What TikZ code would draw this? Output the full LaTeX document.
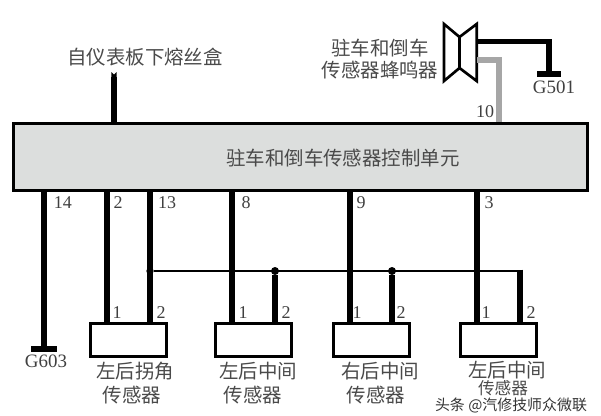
\documentclass[tikz,border=0pt]{standalone}
\usepackage{fontspec}
\setmainfont{Liberation Serif}
\newfontfamily\cjk{Noto Sans CJK SC}
\usetikzlibrary{arrows.meta}
\definecolor{unitgray}{HTML}{DCDEDD}
\definecolor{labelgray}{HTML}{4A4A4A}
\tikzset{
    wire/.style={line width=4.4pt},
    thinwire/.style={line width=2.2pt},
    sensorbox/.style={draw,line width=2.25pt,fill=white,rectangle,inner sep=0pt,minimum width=57pt,minimum height=24.75pt},
    cn/.style={font=\cjk\fontsize{14.6}{16}\selectfont,text=labelgray,inner sep=0pt},
    num/.style={font=\fontsize{13.5}{15}\selectfont,text=black!75,inner sep=0pt},
    dot/.style={circle,fill=black,inner sep=0pt,minimum size=6pt},
}
\begin{document}
\begin{tikzpicture}[x=0.75pt,y=-0.75pt]
    \useasboundingbox (0,0) rectangle (601,415);
    % control unit
    \node[draw,line width=2.25pt,fill=unitgray,rectangle,inner sep=0pt,minimum width=430.5pt,minimum height=50pt] (unit) at (300.5,157) {};
    \node[cn] (unittext) at (343,158) {驻车和倒车传感器控制单元};
    % fuse box feed
    \node[cn] (fuse) at (145,57) {自仪表板下熔丝盒};
    \coordinate (feed) at (114,72);
    \draw[line width=3.8pt,-{Triangle Cap[reversed,length=2pt]}] (unit.north -| feed) -- (feed);
    % buzzer
    \node[cn,align=center] (buzzertext) at (380,59) {驻车和倒车\\[1pt]传感器蜂鸣器};
    \coordinate (bz) at (477,41.5);
    \coordinate (bzb) at (477,60);
    \draw[line width=2pt,line join=miter] (444,24) -- (459.5,37) -- (476.7,24) -- (476.7,81) -- (459.5,68) -- (444,81) -- cycle;
    \draw[line width=2pt] (459.5,37) -- (459.5,68);
    \node[inner sep=0pt,minimum width=18pt,minimum height=4.4pt,fill=black] (g501bar) at (549,74) {};
    \node[num,font=\fontsize{14.2}{16}\selectfont] (g501) at (554,87) {G501};
    \draw[wire] (bz) -| (g501bar.north);
    \coordinate (w10) at (499,122);
    \draw[wire,color=black!35] (bzb) -| (w10);
    \node[num] (n10) at (485,112) {10};
    % ground of pin 14
    \node[inner sep=0pt,minimum width=19.5pt,minimum height=4.4pt,fill=black] (g603bar) at (44,349) {};
    \node[num,font=\fontsize{14.2}{16}\selectfont] (g603) at (46,361) {G603};
    \draw[wire] (unit.south -| g603bar) -- (g603bar.north);
    \node[num] (n14) at (63,203) {14};
    % sensors
    \node[sensorbox] (sa) at (128.5,340) {};
    \node[sensorbox] (sb) at (253,340) {};
    \node[sensorbox] (sc) at (371,340) {};
    \node[sensorbox] (sd) at (498.5,340) {};
    \node[cn] (satext) at (135,371) {左后拐角};
    \node[cn] (satextb) at (132,395) {传感器};
    \node[cn] (sbtext) at (258,371) {左后中间};
    \node[cn] (sbtextb) at (253,395) {传感器};
    \node[cn] (sctext) at (380,371) {右后中间};
    \node[cn] (sctextb) at (376,395) {传感器};
    \node[cn] (sdtext) at (507,370) {左后中间};
    \node[cn,font=\cjk\fontsize{12.5}{14}\selectfont] (sdtextb) at (503,388) {传感器};
    % signal wires, unit pin and sensor pin
    \foreach \nm/\xx/\lbl/\lx in {sa/107/2/118,sb/232/8/246,sc/350/9/361,sd/477/3/489}{
        \coordinate (p\nm) at (\xx,322);
        \draw[wire] (unit.south -| p\nm) -- (\nm.north -| p\nm);
        \node[num] (l\nm) at (\lx,203) {\lbl};
    }
    \coordinate (psr) at (150,322);
    \draw[wire] (unit.south -| psr) -- (sa.north -| psr);
    \node[num] (n13) at (167,203) {13};
    % shared return
    \coordinate (ra) at (150,271);
    \node[dot] (rb) at (275,271) {};
    \node[dot] (rc) at (392,271) {};
    \coordinate (rd) at (520,271);
    \node[dot,minimum size=5.5pt] (rz) at (ra) {};
    \draw[thinwire] (rz) -- (rd);
    \draw[wire] (rb) -- (sb.north -| rb);
    \draw[wire] (rc) -- (sc.north -| rc);
    \draw[line width=3.8pt] ([yshift=1.1pt]rd) -- (sd.north -| rd);
    % pin numbers at the sensors
    \foreach \i/\xx/\lbl in {a/117/1,b/161/2,c/243/1,d/286/2,e/357/1,f/401/2,g/486/1,h/531/2}{
        \node[num] (pn\i) at (\xx,313) {\lbl};
    }
    % watermark
    \node[font=\cjk\fontsize{11.2}{12}\selectfont,text=black!80,inner sep=0pt] (mark) at (511,405) {头条 @汽修技师众微联};
\end{tikzpicture}
\end{document}
